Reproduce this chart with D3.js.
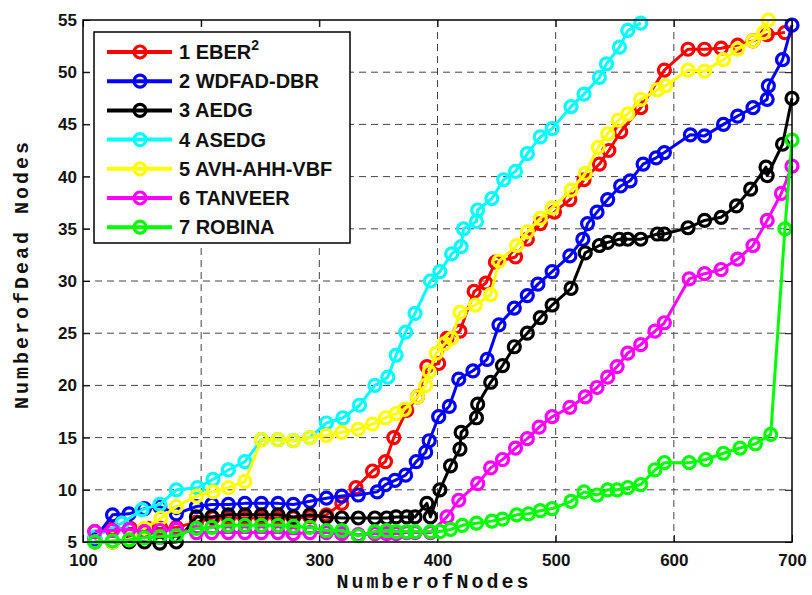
<!DOCTYPE html>
<html>
<head>
<meta charset="utf-8">
<script src="https://cdn.jsdelivr.net/npm/d3@7"></script>
<style>
  body { margin: 0; background: #fff; }
  .tick text { font-family: "Liberation Sans", Arial, sans-serif; font-weight: bold; font-size: 17px; fill: #111; }
</style>
</head>
<body>
<svg id="chart" width="812" height="595"></svg>
<script>
// ---- data: [number of nodes, number of dead nodes] ----
const seriesNames = ['1 EBER', '2 WDFAD-DBR', '3 AEDG', '4 ASEDG', '5 AVH-AHH-VBF', '6 TANVEER', '7 ROBINA']
const seriesColors = ['#ff0000', '#0000ff', '#000000', '#00ffff', '#ffff00', '#ff00ff', '#00ff00']

const eber = [[110,6.0],[125,6.3],[140,6.3],[155,6.3],[166,6.3],[179,6.4],[196,6.9],[210,7.3],[223,7.3],[237,7.3],[251,7.3],[265,7.3],[278,7.3],[292,7.4],[306,7.6],[319,8.7],[331,10.2],[345,11.8],[356,12.7],[363,15.0],[374,17.6],[383,18.9],[391,21.8],[401,22.1],[408,24.5],[419,25.2],[431,29.0],[441,29.8],[449,31.8],[466,32.3],[476,34.0],[487,35.5],[499,36.6],[512,37.8],[524,39.7],[537,41.2],[545,42.5],[555,44.3],[572,46.6],[592,50.2],[612,52.2],[626,52.2],[640,52.3],[654,52.6],[667,53.0],[679,53.6],[694,53.8]]

const wdfad = [[110,5.3],[125,7.6],[139,7.7],[152,8.2],[165,8.4],[179,7.7],[196,8.4],[209,8.6],[223,8.6],[237,8.7],[251,8.7],[265,8.7],[278,8.6],[292,8.9],[306,9.2],[319,9.4],[333,9.5],[349,9.8],[356,10.5],[364,10.9],[373,11.4],[382,12.7],[390,13.6],[393,14.7],[401,17.0],[410,18.0],[418,20.6],[430,21.4],[442,22.5],[452,25.8],[465,27.4],[476,28.6],[485,29.7],[497,30.9],[512,32.4],[523,34.0],[527,35.5],[535,36.6],[544,37.8],[555,39.1],[563,39.6],[574,41.2],[585,41.8],[592,42.3],[614,44.0],[626,43.9],[642,45.0],[654,45.8],[667,46.6],[679,47.4],[680,48.7],[692,51.2],[700,54.5]]

const aedg = [[110,5.0],[125,5.0],[139,5.0],[152,5.0],[165,4.9],[179,5.0],[196,7.4],[209,7.4],[223,7.6],[237,7.6],[251,7.6],[265,7.6],[278,7.4],[292,7.6],[306,7.4],[319,7.3],[333,7.3],[347,7.3],[357,7.3],[365,7.4],[374,7.4],[381,7.4],[391,8.7],[394,7.4],[402,10.0],[411,12.3],[419,13.9],[420,15.5],[433,16.9],[434,18.2],[445,20.3],[455,21.9],[465,23.7],[476,25.0],[487,26.5],[497,27.7],[513,29.3],[525,32.7],[537,33.4],[544,33.7],[554,34.0],[561,34.0],[572,34.0],[586,34.5],[592,34.5],[612,35.1],[626,35.8],[640,36.1],[653,37.2],[665,38.8],[678,40.9],[679,40.1],[692,43.1],[700,47.5]]

const asedg = [[110,5.5],[133,6.8],[150,8.1],[165,8.6],[179,10.0],[197,10.2],[210,11.0],[223,11.9],[237,12.7],[251,14.8],[265,14.8],[278,14.7],[292,15.0],[306,16.4],[320,16.9],[334,18.1],[347,20.0],[358,20.8],[365,22.9],[373,25.1],[381,26.9],[394,30.0],[402,30.9],[412,32.6],[420,33.3],[422,35.0],[433,35.7],[434,36.8],[446,37.9],[456,39.7],[466,40.5],[476,42.2],[487,43.8],[497,44.6],[513,46.7],[524,47.9],[537,49.5],[543,50.8],[554,52.4],[561,54.0],[572,54.7]]

const avh = [[110,5.0],[125,5.0],[140,5.3],[152,6.3],[166,7.3],[179,8.4],[196,9.4],[210,9.8],[223,10.2],[237,10.8],[251,14.8],[265,14.8],[278,14.7],[292,15.0],[306,15.2],[319,15.5],[333,15.8],[345,16.3],[356,16.9],[365,17.3],[372,17.7],[383,18.9],[390,20.0],[393,21.3],[399,23.1],[406,24.0],[412,24.5],[419,27.0],[432,27.7],[445,28.7],[452,31.9],[467,33.4],[476,34.7],[487,36.0],[497,37.0],[513,38.7],[525,40.3],[536,42.8],[544,44.1],[553,45.4],[561,46.0],[572,47.4],[586,48.3],[593,48.7],[612,50.2],[626,50.1],[642,51.2],[654,52.2],[667,53.0],[676,53.8],[680,55.0]]

const tanveer = [[110,6.0],[125,6.1],[139,6.2],[152,6.0],[165,6.1],[179,6.2],[196,5.9],[209,5.9],[223,5.9],[237,5.9],[251,5.9],[265,5.9],[278,5.8],[292,5.9],[306,5.9],[319,5.8],[333,5.7],[347,5.8],[357,5.8],[365,5.8],[374,5.9],[381,5.9],[394,5.9],[408,7.4],[418,9.0],[434,10.6],[445,12.1],[455,12.9],[466,14.0],[476,14.9],[486,16.0],[497,17.0],[512,17.9],[525,18.9],[535,19.8],[544,20.8],[552,21.8],[561,23.1],[572,23.9],[584,25.2],[592,26.0],[613,30.2],[626,30.7],[640,31.1],[654,32.1],[667,33.4],[679,35.8],[691,38.4],[700,41.0]]

const robina = [[110,5.0],[125,5.1],[139,5.2],[152,5.4],[165,5.5],[179,5.6],[196,6.3],[209,6.4],[223,6.6],[237,6.6],[251,6.6],[265,6.6],[278,6.5],[292,6.4],[306,6.1],[319,6.1],[333,5.6],[347,6.0],[357,6.1],[365,6.0],[374,6.0],[381,6.0],[394,6.0],[402,6.0],[411,6.2],[421,6.6],[433,6.8],[446,7.0],[455,7.2],[467,7.6],[477,7.7],[487,8.0],[497,8.2],[513,8.9],[524,9.8],[535,9.5],[544,10.0],[552,10.0],[561,10.2],[572,10.5],[584,11.9],[592,12.6],[613,12.6],[627,12.9],[642,13.5],[656,14.0],[669,14.4],[682,15.3],[694,35.0],[700,43.5]]

const xTicks = [100, 200, 300, 400, 500, 600, 700]
const yTicks = [5, 10, 15, 20, 25, 30, 35, 40, 45, 50, 55]

const allSeries = [eber, wdfad, aedg, asedg, avh, tanveer, robina]

// ---- layout ----
const plot = { left: 83, top: 20, right: 792, bottom: 542 }

const svg = d3.select('#chart')

const x = d3.scaleLinear().domain([100, 700]).range([plot.left, plot.right])
const y = d3.scaleLinear().domain([5, 55]).range([plot.bottom, plot.top])

// dashed grid
svg.append('g')
    .selectAll('line')
    .data(xTicks.slice(1, -1))
    .join('line')
        .attr('x1', d => x(d)).attr('x2', d => x(d))
        .attr('y1', plot.top).attr('y2', plot.bottom)
        .attr('stroke', '#444').attr('stroke-width', 1).attr('stroke-dasharray', '7,5')
svg.append('g')
    .selectAll('line')
    .data(yTicks.slice(1, -1))
    .join('line')
        .attr('x1', plot.left).attr('x2', plot.right)
        .attr('y1', d => y(d)).attr('y2', d => y(d))
        .attr('stroke', '#444').attr('stroke-width', 1).attr('stroke-dasharray', '7,5')

// axes, ticks pointing inwards
svg.append('g')
    .attr('transform', `translate(0,${plot.bottom})`)
    .call(d3.axisBottom(x).tickValues(xTicks).tickSize(-7).tickPadding(12))
svg.append('g')
    .attr('transform', `translate(${plot.left},0)`)
    .call(d3.axisLeft(y).tickValues(yTicks).tickSize(-7).tickPadding(6))
svg.append('g')
    .attr('transform', `translate(0,${plot.top})`)
    .call(d3.axisTop(x).tickValues(xTicks).tickSize(-7).tickFormat(''))
svg.append('g')
    .attr('transform', `translate(${plot.right},0)`)
    .call(d3.axisRight(y).tickValues(yTicks).tickSize(-7).tickFormat(''))
svg.selectAll('.domain').remove()
svg.selectAll('.tick line').attr('stroke', '#000').attr('stroke-width', 1)

// series
const line = d3.line()
    .x(d => x(d[0]))
    .y(d => y(d[1]))

const seriesG = svg.append('g')
allSeries.forEach((data, i) => {
    const g = seriesG.append('g')
    g.append('path')
        .attr('d', line(data))
        .attr('fill', 'none')
        .attr('stroke', seriesColors[i])
        .attr('stroke-width', 3)
        .attr('stroke-linejoin', 'round')
    g.selectAll('circle')
        .data(data)
        .join('circle')
            .attr('cx', d => x(d[0]))
            .attr('cy', d => y(d[1]))
            .attr('r', 6)
            .attr('fill', 'none')
            .attr('stroke', seriesColors[i])
            .attr('stroke-width', 3.2)
})

// plot box
svg.append('rect')
    .attr('x', plot.left).attr('y', plot.top)
    .attr('width', plot.right - plot.left).attr('height', plot.bottom - plot.top)
    .attr('fill', 'none').attr('stroke', '#000').attr('stroke-width', 1.5)

// legend
const legend = svg.append('g')
legend.append('rect')
    .attr('x', 94).attr('y', 32).attr('width', 256).attr('height', 211)
    .attr('fill', '#fff').attr('stroke', '#000').attr('stroke-width', 1.5)

seriesNames.forEach((name, i) => {
    const ly = 52 + i * 29.2
    legend.append('line')
        .attr('x1', 107).attr('x2', 172).attr('y1', ly).attr('y2', ly)
        .attr('stroke', seriesColors[i]).attr('stroke-width', 4)
    legend.append('circle')
        .attr('cx', 140).attr('cy', ly).attr('r', 6)
        .attr('fill', 'none').attr('stroke', seriesColors[i]).attr('stroke-width', 3.2)
    const t = legend.append('text')
        .attr('x', 179).attr('y', ly + 7)
        .attr('font-family', '"Liberation Sans", Arial, sans-serif')
        .attr('font-weight', 'bold').attr('font-size', 20).attr('fill', '#111')
        .text(name)
    if (i === 0) {
        t.append('tspan').attr('dy', -9).attr('font-size', 14).text('2')
    }
})

// axis titles
svg.append('text')
    .attr('x', 434).attr('y', 588)
    .attr('text-anchor', 'middle')
    .attr('font-family', '"Liberation Mono", "Courier New", monospace')
    .attr('font-weight', 'bold').attr('font-size', 20).attr('letter-spacing', 3)
    .attr('fill', '#111')
    .text('NumberofNodes')

svg.append('text')
    .attr('transform', 'translate(28,274) rotate(-90)')
    .attr('text-anchor', 'middle')
    .attr('font-family', '"Liberation Mono", "Courier New", monospace')
    .attr('font-weight', 'bold').attr('font-size', 20).attr('letter-spacing', 3)
    .attr('fill', '#111')
    .text('NumberofDead Nodes')
</script>
</body>
</html>
